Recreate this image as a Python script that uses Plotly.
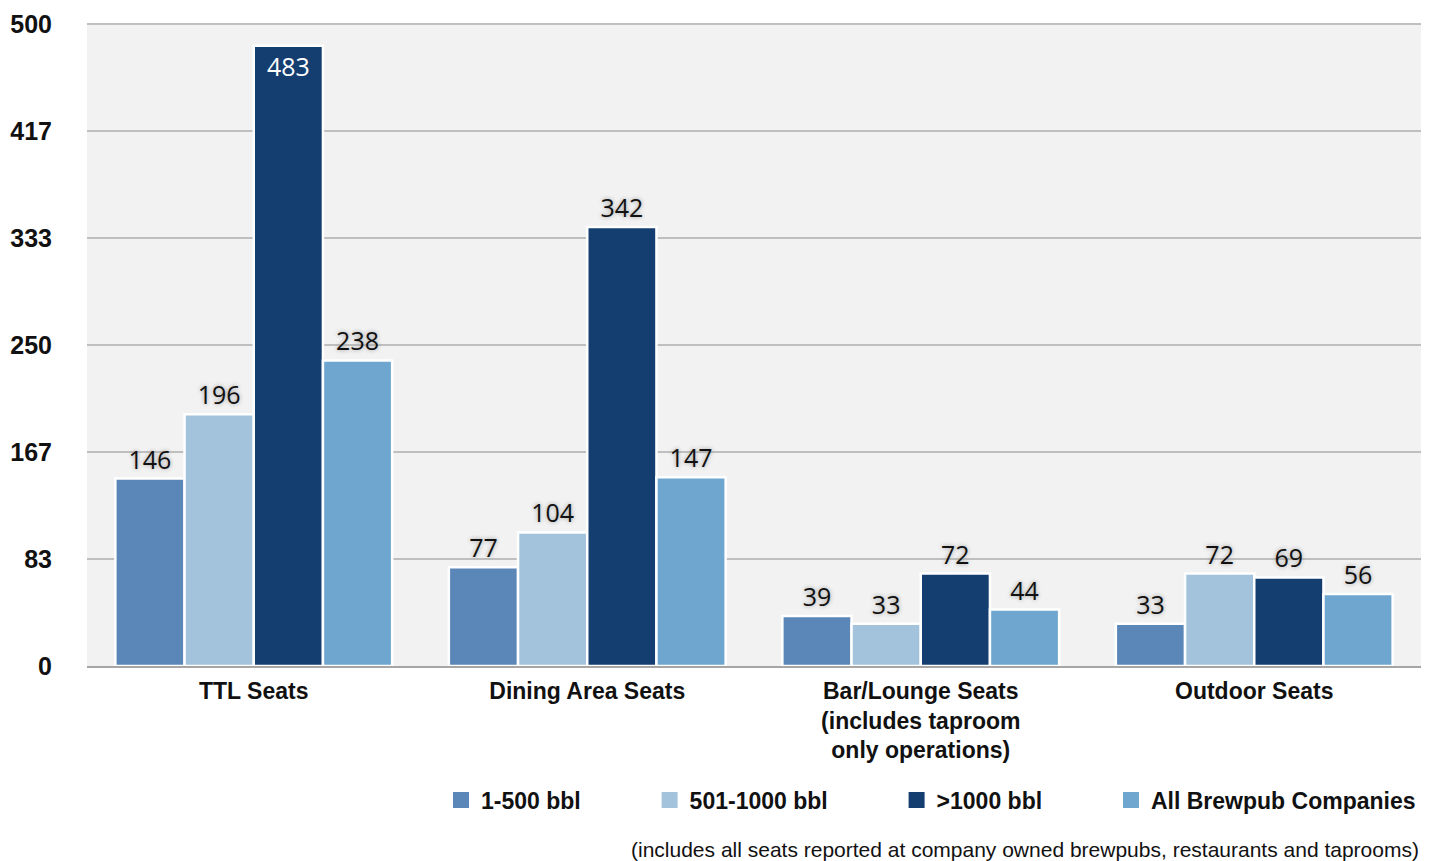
import plotly.graph_objects as go

categories = ["TTL Seats", "Dining Area Seats",
              "Bar/Lounge Seats<br>(includes taproom<br>only operations)", "Outdoor Seats"]
series_names = ["1-500 bbl", "501-1000 bbl", ">1000 bbl", "All Brewpub Companies"]
vals_1_500 = [146, 77, 39, 33]
vals_501_1000 = [196, 104, 33, 72]
vals_gt_1000 = [483, 342, 72, 69]
vals_all = [238, 147, 44, 56]
tick_vals = [0, 500/6, 1000/6, 250, 2000/6, 2500/6, 500]
tick_text = ["0", "83", "167", "250", "333", "417", "500"]

colors = ["#5b87b8", "#a3c3dc", "#143e70", "#6fa6cf"]
series = [vals_1_500, vals_501_1000, vals_gt_1000, vals_all]

BOLD = "Liberation Sans, Arial, sans-serif"
PAD = "\u00a0" * 10

fig = go.Figure()
for name, vals, col in zip(series_names, series, colors):
    positions = ["inside" if v > 450 else "outside" for v in vals]
    fig.add_trace(go.Bar(
        x=categories, y=vals, name=name, showlegend=False,
        marker=dict(color=col, line=dict(color="white", width=2.5)),
        text=[str(v) for v in vals], textposition=positions,
        insidetextanchor="end",
        outsidetextfont=dict(family="Open Sans, DejaVu Sans, sans-serif", size=25,
                             color="#111111", shadow="0px 0px 4px #999999"),
        insidetextfont=dict(family="Open Sans, DejaVu Sans, sans-serif", size=25,
                            color="white"),
        cliponaxis=False,
    ))

# legend entries with square swatches
for i, (name, col) in enumerate(zip(series_names, colors)):
    fig.add_trace(go.Scatter(
        x=[None], y=[None], mode="markers", name=name + (PAD if i < 3 else ""),
        marker=dict(symbol="square", size=18, color=col),
        showlegend=True, hoverinfo="skip",
    ))

fig.update_layout(
    width=1437, height=861,
    barmode="group", bargap=0.17, bargroupgap=0.0,
    paper_bgcolor="white", plot_bgcolor="#f2f2f2",
    margin=dict(l=87, r=16, t=23, b=195, autoexpand=False),
    showlegend=True,
    legend=dict(orientation="h", x=1.0, xanchor="right", y=-0.175, yanchor="top",
                font=dict(family=BOLD, size=23, color="#111111", weight="bold"),
                itemsizing="trace", traceorder="normal",
                bgcolor="rgba(0,0,0,0)"),
    xaxis=dict(showgrid=False, showline=True, linecolor="#a6a6a6", linewidth=2,
               automargin=False, ticks="", ticklabelstandoff=3,
               tickfont=dict(family=BOLD, size=23, color="#111111", weight="bold")),
    yaxis=dict(range=[0, 500.8], tickvals=tick_vals, ticktext=tick_text,
               automargin=False,
               showgrid=True, gridcolor="#bfbfbf", gridwidth=2,
               zeroline=False, ticks="", ticklabelstandoff=34,
               tickfont=dict(family=BOLD, size=25, color="#111111", weight="bold")),
    annotations=[dict(
        text="(includes all seats reported at company owned brewpubs, restaurants and taprooms)",
        xref="paper", yref="paper", x=1.0, xanchor="right", y=-0.265, yanchor="top",
        showarrow=False, font=dict(family=BOLD, size=21, color="#111111"))],
)

fig.write_html("out.html")
